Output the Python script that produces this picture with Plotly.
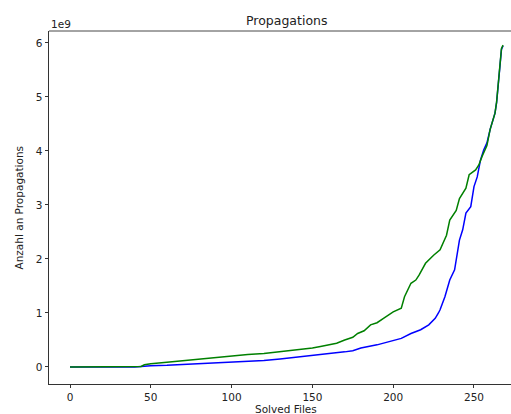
import plotly.graph_objects as go

# Data (x = solved files, y = propagations in units of 1e9)
green_x = [0, 38, 44, 46, 50, 60, 70, 80, 90, 100, 110, 120, 130, 140, 150, 155, 160, 165,
           170, 175, 178, 182, 186, 190, 194, 200, 205, 207, 211, 214, 216, 220, 225, 229,
           233, 235, 239, 241, 245, 247, 251, 253, 255, 258, 260, 262, 263, 264, 265, 266,
           267, 268]
green_y = [0, 0, 0.01, 0.04, 0.06, 0.09, 0.12, 0.14, 0.17, 0.21, 0.23, 0.25, 0.28, 0.31,
           0.35, 0.38, 0.41, 0.44, 0.5, 0.55, 0.62, 0.67, 0.78, 0.82, 0.9, 1.02, 1.09, 1.3,
           1.55, 1.61, 1.7, 1.92, 2.07, 2.17, 2.44, 2.72, 2.9, 3.12, 3.31, 3.56, 3.65, 3.74,
           3.9, 4.1, 4.4, 4.6, 4.7, 4.91, 5.25, 5.62, 5.9, 5.96]

blue_x = [0, 40, 46, 50, 60, 70, 80, 90, 100, 110, 120, 130, 140, 150, 160, 170, 175, 180,
          190, 197, 205, 211, 217, 222, 226, 228, 229, 232, 235, 238, 241, 243, 245, 248,
          250, 252, 254, 256, 258, 260, 262, 263, 264, 265, 266, 267, 268]
blue_y = [0, 0, 0.015, 0.025, 0.03, 0.045, 0.055, 0.065, 0.08, 0.1, 0.12, 0.15, 0.18, 0.22,
          0.25, 0.28, 0.3, 0.35, 0.41, 0.47, 0.53, 0.62, 0.69, 0.78, 0.9, 1.0, 1.06, 1.3,
          1.61, 1.8, 2.35, 2.54, 2.85, 2.97, 3.34, 3.52, 3.83, 4.02, 4.15, 4.4, 4.6, 4.7,
          4.9, 5.2, 5.6, 5.88, 5.95]

x_ticks = [0, 50, 100, 150, 200, 250]
y_ticks = [0, 1, 2, 3, 4, 5, 6]
SCALE = 1e9

FONT = "DejaVu Sans"

fig = go.Figure()
fig.add_trace(go.Scatter(x=blue_x, y=[v * SCALE for v in blue_y], mode="lines",
                         line=dict(color="#0000ff", width=1.5), showlegend=False))
fig.add_trace(go.Scatter(x=green_x, y=[v * SCALE for v in green_y], mode="lines",
                         line=dict(color="#008000", width=1.5), showlegend=False))

axis_common = dict(showgrid=False, zeroline=False, ticks="outside", ticklen=3.5,
                   tickwidth=0.8, tickcolor="#333", linecolor="#333", linewidth=0.9,
                   showline=True, tickfont=dict(family=FONT, size=10.5, color="#222"))

fig.update_layout(
    width=511, height=414,
    margin=dict(l=49, r=0, t=31, b=30),
    paper_bgcolor="white", plot_bgcolor="white",
    font=dict(family=FONT, size=10.5, color="#222"),
    xaxis=dict(range=[-13.0, 272.9], tickvals=x_ticks,
               ticktext=[str(t) for t in x_ticks], **axis_common),
    yaxis=dict(range=[-0.315 * SCALE, 6.222 * SCALE], tickvals=[t * SCALE for t in y_ticks],
               ticktext=[str(t) for t in y_ticks], **axis_common),
    shapes=[dict(type="line", xref="paper", yref="paper", x0=0, x1=1, y0=1, y1=1,
                 line=dict(color="#333", width=0.9))],
    annotations=[
        dict(text="Propagations", xref="paper", yref="paper", x=(286 - 49) / 462,
             y=1, yshift=11, xanchor="center", yanchor="middle", showarrow=False,
             font=dict(family=FONT, size=12.5, color="#222")),
        dict(text="1e9", xref="paper", yref="paper", x=0, y=1, yshift=7,
             xanchor="left", yanchor="middle", showarrow=False,
             font=dict(family=FONT, size=10.5, color="#222")),
        dict(text="Solved Files", xref="paper", yref="paper", x=(286 - 49) / 462,
             y=0, yshift=-25, xanchor="center", yanchor="middle", showarrow=False,
             font=dict(family=FONT, size=10.5, color="#222")),
        dict(text="Anzahl an Propagations", xref="paper", yref="paper", x=0, xshift=-31,
             y=0.5, xanchor="center", yanchor="middle", textangle=-90, showarrow=False,
             font=dict(family=FONT, size=10.5, color="#222")),
    ],
)

fig.write_html("out.html")
